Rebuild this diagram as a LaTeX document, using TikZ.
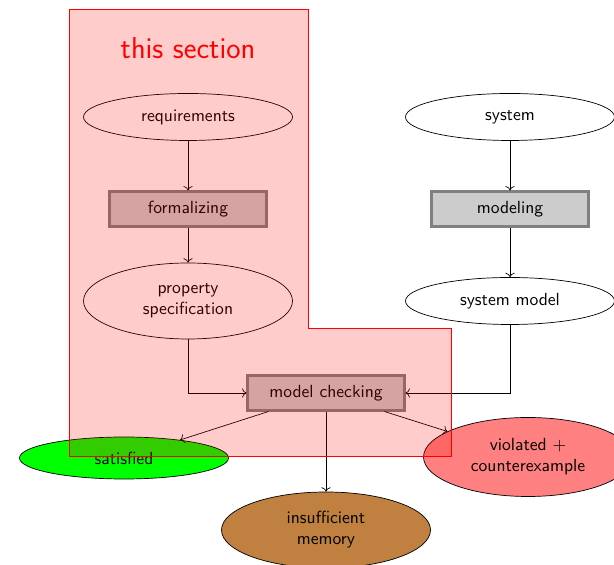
\documentclass[tikz,border=0pt]{standalone}
\usepackage{tikz}
\usetikzlibrary{shapes.geometric}
\usetikzlibrary{arrows.meta}

\begin{document}
\begin{tikzpicture}[font=\sffamily,
    % styles
    artifact/.style={ellipse,draw,fill=white,minimum width=4.18cm,minimum height=0.94cm,align=center},
    activity/.style={rectangle,draw=gray,fill=gray!40,very thick,minimum width=3.14cm,minimum height=0.7cm},
    outcome/.style={ellipse,draw,minimum width=4.18cm,align=center},
    flow/.style={->},
    section area/.style={draw=red,fill=red,fill opacity=0.2}]

  \useasboundingbox (0,0) rectangle (12.28,11.3);

  % left column
  \node[artifact] (req) at (3.76,8.96) {requirements};
  \node[activity] (form) at (3.76,7.12) {formalizing};
  \node[artifact,minimum height=1.52cm] (prop) at (3.76,5.28) {property\\specification};

  % right column
  \node[artifact] (sys) at (10.2,8.96) {system};
  \node[activity] (model) at (10.2,7.12) {modeling};
  \node[artifact] (sysmodel) at (10.2,5.28) {system model};

  % checking and its outcomes
  \node[activity] (mc) at (6.52,3.44) {model checking};
  \node[outcome,fill=green,minimum height=0.84cm] (sat) at (2.48,2.14) {satisfied};
  \node[outcome,fill=red!50,minimum height=1.58cm] (viol) at (10.56,2.16) {violated $+$\\counterexample};
  \node[outcome,fill=brown,minimum height=1.52cm] (mem) at (6.52,0.7) {insufficient\\memory};

  % connectors
  \draw[flow] (req) -- (form);
  \draw[flow] (form) -- (prop);
  \draw[flow] (sys) -- (model);
  \draw[flow] (model) -- (sysmodel);
  \draw[flow] (prop) |- (mc);
  \draw[flow] (sysmodel) |- (mc);
  \draw[flow] (mc) -- (sat);
  \draw[flow] (mc) -- (viol);
  \draw[flow] (mc) -- (mem);

  % highlighted section
  \node[text=red,font=\sffamily\LARGE] (title) at (3.76,10.34) {this section};
  \draw[section area] (1.38,11.12) -- (6.16,11.12) -- (6.16,4.74)
    -- (9.02,4.74) -- (9.02,2.18) -- (1.38,2.18) -- cycle;
\end{tikzpicture}
\end{document}
